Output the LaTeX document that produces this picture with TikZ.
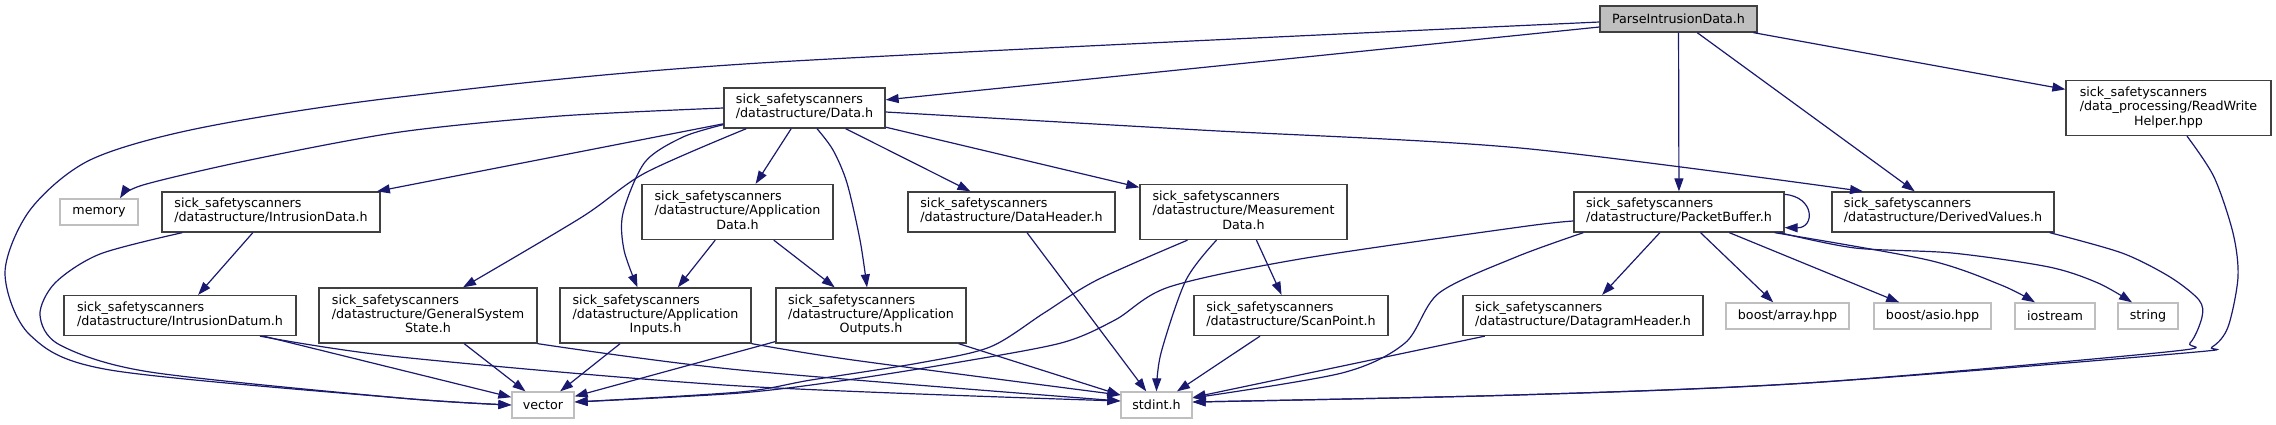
\documentclass[tikz,border=0pt]{standalone}
\usepackage{fontspec}
\setmainfont{DejaVu Sans}
\usetikzlibrary{arrows.meta}
\definecolor{edgeblue}{HTML}{191970}
\definecolor{boxgrey}{HTML}{404040}
\definecolor{extgrey}{HTML}{BFBFBF}
\newcommand\hdrtwo[2]{\begin{tabular}{@{}l@{}}sick\_safetyscanners\\/#1/#2\end{tabular}}
\newcommand\hdrthree[3]{\begin{tabular}{@{}l@{}}sick\_safetyscanners\\/#1/#2\\\multicolumn{1}{@{}c@{}}{#3}\end{tabular}}

\begin{document}
\begin{tikzpicture}[x=1pt,y=-1pt,
	file/.style={draw=boxgrey, line width=1.3pt, fill=white, inner sep=2pt, minimum height=40, font=\fontsize{12.7}{14.2}\selectfont},
	filethree/.style={file, minimum height=55},
	sysfile/.style={file, draw=extgrey, minimum height=26},
	rootfile/.style={file, fill=extgrey, minimum height=26},
	edge/.style={draw=edgeblue, line width=1.2pt, -{Triangle[length=13pt,width=9pt]}}]
			%%%%% START %%%%%
			\def\rowone{19}
			\def\rowtwo{108}
			\def\rowthree{212}
			\def\rowfour{315.5}
			\def\rowfive{405}
			
			\useasboundingbox (0,0) rectangle (2276,424);
			
			\node[rootfile, minimum width=157] (root) at (1678.5,\rowone) {ParseIntrusionData.h};
			
			\node[file, minimum width=161] (data) at (804.5,\rowtwo) {\hdrtwo{datastructure}{Data.h}};
			\node[filethree, minimum width=205] (rwhelper) at (2168.5,\rowtwo) {\hdrthree{data\_processing}{ReadWrite}{Helper.hpp}};
			
			\node[sysfile, minimum width=78] (memory) at (99,\rowthree) {memory};
			\node[file, minimum width=218] (intrdata) at (271,\rowthree) {\hdrtwo{datastructure}{IntrusionData.h}};
			\node[filethree, minimum width=191] (appdata) at (737.5,\rowthree) {\hdrthree{datastructure}{Application}{Data.h}};
			\node[file, minimum width=207] (dataheader) at (1011.5,\rowthree) {\hdrtwo{datastructure}{DataHeader.h}};
			\node[filethree, minimum width=207] (measdata) at (1243.5,\rowthree) {\hdrthree{datastructure}{Measurement}{Data.h}};
			\node[file, minimum width=210] (pbuffer) at (1679,\rowthree) {\hdrtwo{datastructure}{PacketBuffer.h}};
			\node[file, minimum width=222] (derived) at (1943,\rowthree) {\hdrtwo{datastructure}{DerivedValues.h}};
			
			\node[file, minimum width=232] (intrdatum) at (180,\rowfour) {\hdrtwo{datastructure}{IntrusionDatum.h}};
			\node[filethree, minimum width=218] (gsstate) at (428,\rowfour) {\hdrthree{datastructure}{GeneralSystem}{State.h}};
			\node[filethree, minimum width=191] (appinputs) at (655.5,\rowfour) {\hdrthree{datastructure}{Application}{Inputs.h}};
			\node[filethree, minimum width=190] (appoutputs) at (871,\rowfour) {\hdrthree{datastructure}{Application}{Outputs.h}};
			\node[file, minimum width=194] (scanpoint) at (1291,\rowfour) {\hdrtwo{datastructure}{ScanPoint.h}};
			\node[file, minimum width=240] (dgheader) at (1583,\rowfour) {\hdrtwo{datastructure}{DatagramHeader.h}};
			\node[sysfile, minimum width=123] (boostarray) at (1787.5,316) {boost/array.hpp};
			\node[sysfile, minimum width=117] (boostasio) at (1932.5,316) {boost/asio.hpp};
			\node[sysfile, minimum width=80] (iostream) at (2055,316) {iostream};
			\node[sysfile, minimum width=60] (string) at (2148,316) {string};
			
			\node[sysfile, minimum width=62] (vector) at (543,\rowfive) {vector};
			\node[sysfile, minimum width=71] (stdint) at (1156.5,\rowfive) {stdint.h};
			
			% ParseIntrusionData.h
			\draw[edge] (root) -- (data);
			\draw[edge] (root) -- (pbuffer);
			\draw[edge] (root) -- (derived);
			\draw[edge] (root) -- (rwhelper);
			\draw[edge] plot[smooth] coordinates {([yshift=-3pt]root.west) (760,63) (400,97) (200,128) (90,160) (30,210) (5,273) (30,335) (110,370) (400,398) (vector.west)};
			
			% Data.h
			\draw[edge] (data) -- (intrdata);
			\draw[edge] (data) -- (appdata);
			\draw[edge] (data) -- (dataheader);
			\draw[edge] (data) -- (measdata);
			\draw[edge] plot[smooth] coordinates {(data.west) (560,116) (400,132) (250,160) (143,185) ([xshift=21pt]memory.north)};
			\draw[edge] plot[smooth] coordinates {([xshift=23pt]data.south west) (645,173) (582,217) ([xshift=35pt]gsstate.north)};
			\draw[edge] plot[smooth] coordinates {([yshift=4pt]data.south west) (683,137) (645,162) (623,213) (624,250) ([xshift=-18pt]appinputs.north)};
			\draw[edge] plot[smooth] coordinates {([xshift=12.5pt]data.south) (833,150) (847,183) (860,240) ([xshift=-4pt]appoutputs.north)};
			\draw[edge] plot[smooth] coordinates {([yshift=-4pt]data.east) (1200,130) (1520,148) ([xshift=-80pt]derived.north)};
			
			% IntrusionData.h and IntrusionDatum.h
			\draw[edge] (intrdata) -- (intrdatum);
			\draw[edge] plot[smooth] coordinates {([xshift=21pt]intrdata.south west) (100,254) (55,283) (40,315) (60,345) (150,372) (400,398) (vector.west)};
			\draw[edge] (intrdatum) -- (vector);
			\draw[edge] plot[smooth] coordinates {([xshift=80pt]intrdatum.south) (400,357) (740,386) ([yshift=4pt]stdint.west)};
			
			% Application* and GeneralSystemState.h
			\draw[edge] (appdata) -- (appinputs);
			\draw[edge] (appdata) -- (appoutputs);
			\draw[edge] (gsstate) -- (vector);
			\draw[edge] plot[smooth] coordinates {(gsstate.south east) (740,370) ([yshift=4pt]stdint.west)};
			\draw[edge] (appinputs) -- (vector);
			\draw[edge] plot[smooth] coordinates {(appinputs.south east) (853,360) ([yshift=10pt]stdint.west)};
			\draw[edge] (appoutputs) -- (vector);
			\draw[edge] ([xshift=-8pt]appoutputs.south east) -- ([yshift=10pt]stdint.west);
			
			% DataHeader.h, MeasurementData.h, ScanPoint.h
			\draw[edge] (dataheader) -- (stdint);
			\draw[edge] (measdata) -- (scanpoint);
			\draw[edge] plot[smooth] coordinates {([xshift=-56pt]measdata.south) (1097,280) (1044,313) (990,347) (919,363) (811,380) (740,392) ([yshift=3pt]vector.east)};
			\draw[edge] plot[smooth] coordinates {([xshift=-27pt]measdata.south) (1186,280) (1161,353) (stdint.north)};
			\draw[edge] (scanpoint) -- (stdint);
			
			% PacketBuffer.h
			\draw[edge] ([yshift=-3pt]pbuffer.north east) .. controls (1815,197) and (1815,228) .. ([yshift=5pt]pbuffer.south east);
			\draw[edge] (pbuffer) -- (dgheader);
			\draw[edge] (pbuffer) -- (boostarray);
			\draw[edge] (pbuffer) -- (boostasio);
			\draw[edge] plot[smooth] coordinates {([xshift=-10pt]pbuffer.south east) (1928,260) (2001,285) ([xshift=-20pt]iostream.north)};
			\draw[edge] plot[smooth] coordinates {([xshift=-5pt]pbuffer.south east) (1855,248) (1952,253) (2049,267) (2098,283) ([xshift=-16pt]string.north)};
			\draw[edge] plot[smooth] coordinates {([yshift=-9pt]pbuffer.west) (1520,227) (1300,259) (1169,287) (1115,320) (1061,343) (954,363) (847,380) (740,393) ([yshift=3pt]vector.east)};
			\draw[edge] plot[smooth] coordinates {([xshift=10pt]pbuffer.south west) (1516,257) (1439,293) (1405,343) (1342,373) ([yshift=7pt]stdint.east)};
			\draw[edge] (dgheader) -- (stdint);
			
			% DerivedValues.h and ReadWriteHelper.hpp
			\draw[edge] plot[smooth] coordinates {([xshift=-5pt]derived.south east) (2122,253) (2170,277) (2199,300) (2202,317) (2190,343) (2166,352) (1807,383) (1516,395) ([yshift=3pt]stdint.east)};
			\draw[edge] plot[smooth] coordinates {([xshift=18.5pt]rwhelper.south) (2214,177) (2233,233) (2238,277) (2228,327) (2212,347) (2185,353) (1807,383) (1516,395) ([yshift=3pt]stdint.east)};
			%%%%% END %%%%%
\end{tikzpicture}
\end{document}
